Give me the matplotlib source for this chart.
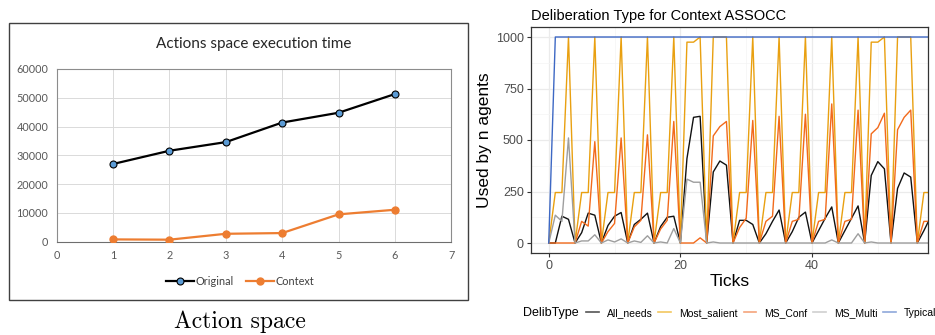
import numpy as np
import matplotlib
matplotlib.use("Agg")
import matplotlib.pyplot as plt
from matplotlib.patches import Rectangle
from matplotlib.lines import Line2D

# ---- left chart data (Excel style) ----
runs = [1, 2, 3, 4, 5, 6]
original = [27000, 31600, 34600, 41400, 44800, 51300]
context = [800, 700, 2750, 3000, 9500, 11100]

# ---- right chart data (ggplot style), ticks 0..58 ----
ticks = list(range(59))
all_needs = [0, 0, 130, 115, 0, 50, 145, 135, 0, 85, 130, 148, 0, 90, 115, 145, 0,
             80, 125, 130, 0, 410, 610, 615, 0, 345, 398, 378, 0, 110, 110, 90, 0,
             45, 105, 160, 0, 55, 125, 150, 0, 60, 120, 175, 0, 60, 120, 180, 0,
             328, 395, 360, 0, 265, 340, 320, 0, 60, 125]
most_salient = [0, 245, 245, 1000, 0, 245, 245, 1000, 0, 245, 245, 1000, 0, 245, 245, 1000, 0,
                245, 245, 1000, 0, 975, 975, 1000, 0, 1000, 1000, 1000, 0, 245, 245, 1000, 0,
                245, 245, 1000, 0, 245, 245, 1000, 0, 245, 245, 1000, 0, 245, 245, 1000, 0,
                975, 975, 1000, 0, 1000, 1000, 1000, 0, 245, 245]
ms_conf = [0, 0, 0, 0, 0, 105, 82, 492, 0, 55, 95, 510, 0, 78, 110, 525, 0,
           68, 110, 590, 0, 0, 0, 25, 0, 520, 565, 590, 0, 75, 120, 595, 0,
           105, 130, 615, 0, 105, 115, 625, 0, 105, 115, 675, 0, 105, 115, 645, 0,
           530, 560, 630, 0, 550, 610, 645, 0, 105, 105]
ms_multi = [0, 135, 105, 510, 0, 10, 10, 40, 0, 15, 5, 20, 0, 10, 3, 35, 0,
            5, 0, 70, 0, 310, 295, 295, 0, 5, 0, 0, 0, 0, 0, 0, 0,
            0, 0, 0, 0, 0, 0, 0, 0, 0, 0, 15, 0, 0, 0, 45, 0,
            5, 0, 0, 0, 0, 0, 0, 0, 0, 0]
typical = [0, 1000, 1000, 1000, 1000, 1000, 1000, 1000, 1000, 1000, 1000, 1000, 1000, 1000, 1000, 1000, 1000,
           1000, 1000, 1000, 1000, 1000, 1000, 1000, 1000, 1000, 1000, 1000, 1000, 1000, 1000, 1000, 1000,
           1000, 1000, 1000, 1000, 1000, 1000, 1000, 1000, 1000, 1000, 1000, 1000, 1000, 1000, 1000, 1000,
           1000, 1000, 1000, 1000, 1000, 1000, 1000, 1000, 1000, 1000]
delib_names = ["All_needs", "Most_salient", "MS_Conf", "MS_Multi", "Typical"]
delib_colors = ["#111111", "#E9A010", "#F26A1B", "#9E9E9E", "#3D68C4"]
legend_colors = ["#555555", "#F2C760", "#F5A47C", "#CFCFCF", "#8FA8DA"]

W, H = 935, 335
fig = plt.figure(figsize=(W / 100, H / 100), dpi=100)

def fx(px):
    return px / W

def fy(py):
    return 1 - py / H

# ================= left panel =================
fig.patches.append(Rectangle((fx(9.3), fy(300)), fx(468.3) - fx(9.3), fy(22.7) - fy(300),
                             transform=fig.transFigure, fill=False, ec="#404040", lw=1.0))
ax1 = fig.add_axes([fx(56.7), fy(241.7), fx(451.3) - fx(56.7), fy(69) - fy(241.7)])
ax1.plot(runs, original, color="black", lw=1.6, marker="o", ms=5,
         mfc="#5B9BD5", mec="black", mew=0.8, label="Original", zorder=3)
ax1.plot(runs, context, color="#ED7D31", lw=1.6, marker="o", ms=5,
         mfc="#ED7D31", mec="#ED7D31", label="Context", zorder=3)
ax1.set_xlim(0, 7)
ax1.set_ylim(0, 60000)
ax1.set_xticks(range(8))
ax1.set_yticks(range(0, 60001, 10000))
ax1.grid(True, color="#DADADA", lw=0.7)
ax1.set_axisbelow(True)
for s in ax1.spines.values():
    s.set_color("#8C8C8C")
    s.set_linewidth(0.8)
ax1.spines["bottom"].set_color("#6E6E6E")
ax1.tick_params(length=0, labelsize=7.8, labelcolor="#595959", pad=6)
for lab in ax1.get_xticklabels() + ax1.get_yticklabels():
    lab.set_family("Lato")
ax1.set_title("Actions space execution time", fontsize=11, family="Lato", color="#262626", pad=15)
fig.legend(handles=ax1.get_lines(), loc="center", bbox_to_anchor=(fx(240), fy(281.7)), ncol=2,
           frameon=False, prop={"family": "Lato", "size": 7.8}, handlelength=2.6,
           handletextpad=0.1, columnspacing=1.2, labelcolor="#404040")
fig.text(fx(240), fy(322), "Action space", family="cmr10", fontsize=17,
         ha="center", va="center")

# ================= right panel =================
ax2 = fig.add_axes([fx(530.7), fy(253.3), fx(928.3) - fx(530.7), fy(26.7) - fy(253.3)])
series = [all_needs, most_salient, ms_conf, ms_multi, typical]
for vals, name, col in zip(series, delib_names, delib_colors):
    ax2.plot(ticks, vals, color=col, lw=1.0, label=name)
ax2.set_xlim(-2.74, 57.67)
ax2.set_ylim(-50, 1050)
ax2.set_xticks([0, 20, 40])
ax2.set_xticks([10, 30, 50], minor=True)
ax2.set_yticks([0, 250, 500, 750, 1000])
ax2.set_yticks([125, 375, 625, 875], minor=True)
ax2.grid(True, which="major", color="#EBEBEB", lw=0.9)
ax2.grid(True, which="minor", color="#F4F4F4", lw=0.5)
ax2.set_axisbelow(True)
for s in ax2.spines.values():
    s.set_color("#333333")
    s.set_linewidth(0.9)
ax2.tick_params(which="major", length=3, color="#333333", labelsize=9, labelcolor="#4D4D4D", pad=2)
ax2.tick_params(which="minor", length=0)
for lab in ax2.get_xticklabels() + ax2.get_yticklabels():
    lab.set_family("Liberation Sans")
ax2.set_xlabel("Ticks", fontsize=12.5, family="Liberation Sans", labelpad=1)
ax2.set_ylabel("Used by n agents", fontsize=12.5, family="Liberation Sans", labelpad=3)
ax2.set_title("Deliberation Type for Context ASSOCC", fontsize=10.5, family="Liberation Sans",
              loc="left", x=0.0, pad=5)

# legend along the bottom (runs off the right edge as in the source image)
fig.text(fx(522.7), fy(312.7), "DelibType", fontsize=9, family="Liberation Sans", va="center")
handles = [Line2D([], [], color=c, lw=1.2) for c in legend_colors]
fig.legend(handles, delib_names, loc="center left", bbox_to_anchor=(fx(586), fy(312.7)), ncol=5,
           frameon=False, prop={"family": "Liberation Sans", "size": 7.5}, handlelength=1.2,
           handletextpad=0.8, columnspacing=0.55, borderaxespad=0, borderpad=0)

fig.savefig("out.png", dpi=100)
